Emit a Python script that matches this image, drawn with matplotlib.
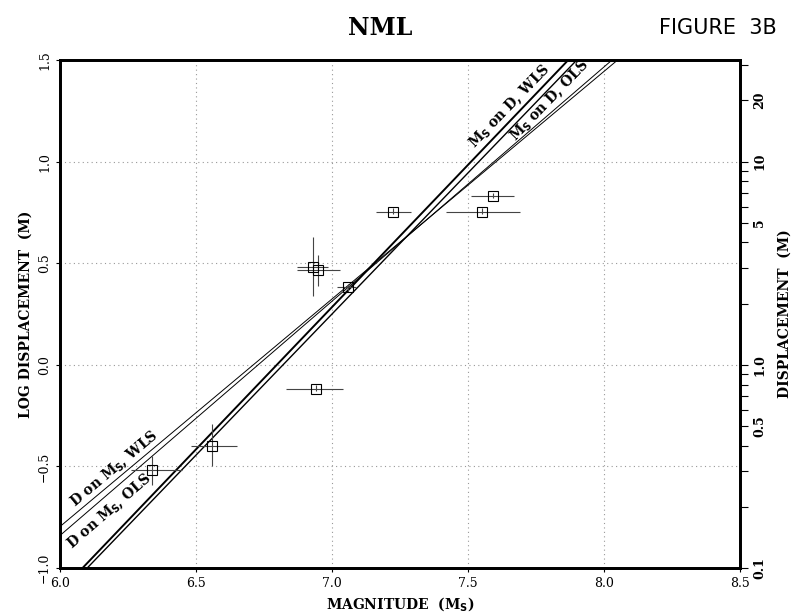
import numpy as np
import matplotlib
matplotlib.use("Agg")
import matplotlib.pyplot as plt
from matplotlib.ticker import FixedLocator, FixedFormatter, NullFormatter

# data points: magnitude, log displacement, error bounds
mag = [6.34, 6.56, 6.94, 7.06, 6.93, 6.947, 7.225, 7.55, 7.59]
logd = [-0.52, -0.40, -0.117, 0.383, 0.482, 0.469, 0.753, 0.753, 0.832]
mag_lo = [6.26, 6.48, 6.83, 7.02, 6.87, 6.87, 7.16, 7.42, 7.51]
mag_hi = [6.45, 6.65, 7.04, 7.09, 6.985, 7.03, 7.29, 7.69, 7.67]
logd_lo = [-0.59, -0.50, -0.13, 0.36, 0.34, 0.39, 0.74, 0.74, 0.82]
logd_hi = [-0.45, -0.29, -0.10, 0.40, 0.63, 0.54, 0.77, 0.77, 0.845]

# regression lines: (name, slope, value at M=6.0, linewidth)
fit_names = ["D on Ms, WLS", "D on Ms, OLS", "Ms on D, WLS", "Ms on D, OLS"]
fit_slope = [1.12, 1.153, 1.40, 1.389]
fit_at6 = [-0.796, -0.84, -1.116, -1.139]
fit_lw = [0.7, 0.7, 1.4, 1.0]

# label positions / angles for the line names
lab_text = [r"D on M$_\mathbf{S}$, WLS", r"D on M$_\mathbf{S}$, OLS",
            r"M$_\mathbf{S}$ on D, WLS", r"M$_\mathbf{S}$ on D, OLS"]
lab_x = [6.2, 6.18, 7.655, 7.80]
lab_y = [-0.51, -0.72, 1.27, 1.30]
lab_rot = [40, 41, 46, 46]

right_ticks = [0.1, 0.5, 1.0, 5, 10, 20]
right_labels = ["0.1", "0.5", "1.0", "5", "10", "20"]

fig = plt.figure(figsize=(8.01, 6.16), dpi=100)
ax = fig.add_axes([0.0749, 0.0779, 0.849, 0.8247])

ax.set_xlim(6.0, 8.5)
ax.set_ylim(-1.0, 1.5)

for xv in [6.5, 7.0, 7.5, 8.0]:
    ax.axvline(xv, color="#999999", lw=0.8, ls=(0, (1, 3)), zorder=0)
for yv in [-0.5, 0.0, 0.5, 1.0]:
    ax.axhline(yv, color="#999999", lw=0.8, ls=(0, (1, 3)), zorder=0)

xx = np.linspace(6.0, 8.5, 200)
for s, b, lw in zip(fit_slope, fit_at6, fit_lw):
    ax.plot(xx, b + s * (xx - 6.0), color="black", lw=lw)

xerr = [np.array(mag) - np.array(mag_lo), np.array(mag_hi) - np.array(mag)]
yerr = [np.array(logd) - np.array(logd_lo), np.array(logd_hi) - np.array(logd)]
ax.errorbar(mag, logd, xerr=xerr, yerr=yerr, fmt="s", mfc="none", mec="black",
            ms=7, mew=0.8, ecolor="#444444", elinewidth=0.8, capsize=0)

for t, x, y, r in zip(lab_text, lab_x, lab_y, lab_rot):
    ax.text(x, y, t, rotation=r, ha="center", va="center", family="DejaVu Serif",
            fontweight="bold", fontsize=10)

for sp in ax.spines.values():
    sp.set_linewidth(2)

ax.set_xticks([6.0, 6.5, 7.0, 7.5, 8.0, 8.5])
ax.set_xticklabels(["6.0", "6.5", "7.0", "7.5", "8.0", "8.5"], family="DejaVu Serif", fontsize=9)
ax.set_yticks([-1.0, -0.5, 0.0, 0.5, 1.0, 1.5])
ax.set_yticklabels(["\u22121.0", "\u22120.5", "0.0", "0.5", "1.0", "1.5"], family="DejaVu Serif",
                   fontsize=9, rotation=90, va="center")
ax.tick_params(length=3, direction="out")

ax.set_xlabel(r"MAGNITUDE  (M$_\mathbf{S}$)", family="DejaVu Serif", fontweight="bold", fontsize=10)
ax.set_ylabel("LOG DISPLACEMENT  (M)", family="DejaVu Serif", fontweight="bold", fontsize=10)

ax2 = ax.twinx()
ax2.set_yscale("log")
ax2.set_ylim(10 ** -1.0, 10 ** 1.5)
ax2.yaxis.set_major_locator(FixedLocator(right_ticks))
ax2.yaxis.set_major_formatter(FixedFormatter(right_labels))
ax2.yaxis.set_minor_formatter(NullFormatter())
for lbl in ax2.get_yticklabels():
    lbl.set_family("DejaVu Serif")
    lbl.set_fontweight("bold")
    lbl.set_fontsize(9)
    lbl.set_rotation(90)
    lbl.set_va("center")
ax2.tick_params(which="both", direction="out", length=6, width=0.8)
ax2.tick_params(which="minor", length=6)
ax2.set_ylabel("DISPLACEMENT  (M)", family="DejaVu Serif", fontweight="bold", fontsize=10,
               rotation=90, labelpad=8)
for sp in ax2.spines.values():
    sp.set_linewidth(2)

fig.text(0.475, 0.955, "NML", family="DejaVu Serif", fontweight="bold", fontsize=17,
         ha="center", va="center")
fig.text(0.97, 0.955, "FIGURE  3B", family="Liberation Sans Narrow", fontsize=15,
         ha="right", va="center")

fig.savefig("out.png", dpi=100)
